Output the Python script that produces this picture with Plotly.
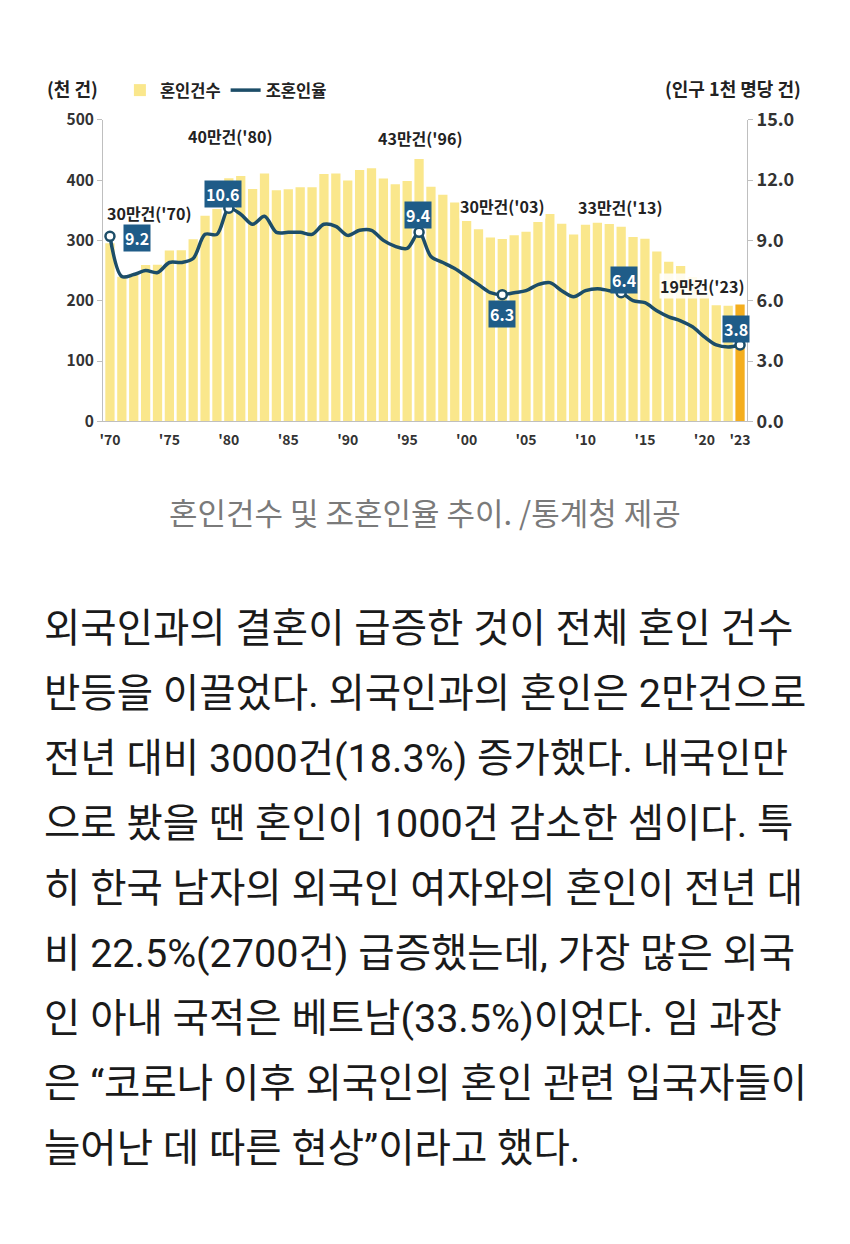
import plotly.graph_objects as go

# ---------------- data ----------------
years = list(range(1970, 2024))
marriages = [295.1, 239.5, 244.8, 259.1, 259.6, 283.2, 283.8, 302.0, 341.0, 352.0,
             403.0, 406.6, 385.0, 411.0, 383.0, 384.7, 388.0, 388.0, 410.0, 411.0,
             399.3, 416.9, 419.8, 402.6, 393.1, 398.5, 434.9, 389.0, 375.6, 362.7,
             332.1, 318.4, 304.9, 302.5, 308.6, 314.3, 330.6, 343.6, 327.7, 309.8,
             326.1, 329.1, 327.1, 322.8, 305.5, 302.8, 281.6, 264.5, 257.6, 239.2,
             213.5, 192.5, 191.7, 193.7]
rates = [9.2, 7.2, 7.3, 7.5, 7.4, 7.9, 7.9, 8.1, 9.3, 9.3,
         10.6, 10.3, 9.8, 10.2, 9.4, 9.4, 9.4, 9.3, 9.8, 9.7,
         9.25, 9.5, 9.5, 9.0, 8.7, 8.6, 9.4, 8.2, 7.9, 7.6,
         7.2, 6.8, 6.4, 6.3, 6.4, 6.5, 6.8, 6.9, 6.5, 6.2,
         6.5, 6.6, 6.5, 6.4, 6.0, 5.9, 5.5, 5.2, 5.0, 4.7,
         4.2, 3.8, 3.7, 3.8]

highlight_years = [1970, 1980, 1996, 2003, 2013, 2023]
count_labels = ["30만건('70)", "40만건('80)", "43만건('96)", "30만건('03)", "33만건('13)", "19만건('23)"]
rate_labels = ["9.2", "10.6", "9.4", "6.3", "6.4", "3.8"]

x_tick_vals = [1970, 1975, 1980, 1985, 1990, 1995, 2000, 2005, 2010, 2015, 2020, 2023]
x_tick_text = ["'70", "'75", "'80", "'85", "'90", "'95", "'00", "'05", "'10", "'15", "'20", "'23"]

caption = "혼인건수 및 조혼인율 추이. /통계청 제공"
body_lines = [
    "외국인과의 결혼이 급증한 것이 전체 혼인 건수",
    "반등을 이끌었다. 외국인과의 혼인은 2만건으로",
    "전년 대비 3000건(18.3%) 증가했다. 내국인만",
    "으로 봤을 땐 혼인이 1000건 감소한 셈이다. 특",
    "히 한국 남자의 외국인 여자와의 혼인이 전년 대",
    "비 22.5%(2700건) 급증했는데, 가장 많은 외국",
    "인 아내 국적은 베트남(33.5%)이었다. 임 과장",
    "은 “코로나 이후 외국인의 혼인 관련 입국자들이",
    "늘어난 데 따른 현상”이라고 했다.",
]

# ---------------- style ----------------
W, H = 850, 1244
FONT = "Noto Sans CJK KR, Noto Sans, sans-serif"
BODY_FONT = "Roboto, Noto Sans CJK KR, sans-serif"
BAR_YELLOW = "#FAE78C"
BAR_ORANGE = "#F4AE1E"
LINE_COLOR = "#1C4D68"
BOX_COLOR = "#1F5C88"
AXIS_GRAY = "#BFBFBF"


def px(x):
    return x / W


def py(y):
    return 1 - y / H


bar_colors = [BAR_YELLOW] * (len(years) - 1) + [BAR_ORANGE]

fig = go.Figure()
fig.add_trace(go.Bar(
    x=years, y=marriages, name="혼인건수",
    marker=dict(color=bar_colors, line=dict(width=0)),
    yaxis="y", hoverinfo="skip",
))
fig.add_trace(go.Scatter(
    x=years, y=rates, name="조혼인율", mode="lines",
    line=dict(color=LINE_COLOR, width=3.5, shape="spline", smoothing=0.9),
    yaxis="y2", hoverinfo="skip",
))
hl_rates = [rates[years.index(y)] for y in highlight_years]
hl_counts = [marriages[years.index(y)] for y in highlight_years]
fig.add_trace(go.Scatter(
    x=highlight_years, y=hl_rates, mode="markers", showlegend=False,
    marker=dict(color="white", size=9, line=dict(color=LINE_COLOR, width=2.5)),
    yaxis="y2", hoverinfo="skip",
))

annotations = []
# rate boxes (xshift, yshift in px)
rate_shifts = [(27, -2), (-6, 14), (-1, 17), (0, -19), (3, 13), (-4, 16)]
for yr, rv, lab, (dx, dy) in zip(highlight_years, hl_rates, rate_labels, rate_shifts):
    annotations.append(dict(
        x=yr, y=rv, xref="x", yref="y2", text=f"<b>{lab}</b>", showarrow=False,
        xshift=dx, yshift=dy, bgcolor=BOX_COLOR, borderpad=1,
        font=dict(family=FONT, size=16, color="white"),
    ))
# count labels
count_shifts = [(40, 30), (2, 42), (1, 21), (0, 33), (-1, 20), (-38, 19)]
count_bg = [None, None, None, "rgba(255,255,255,0.85)", None, "rgba(255,255,255,0.85)"]
for yr, cv, lab, (dx, dy), bg in zip(highlight_years, hl_counts, count_labels, count_shifts, count_bg):
    a = dict(
        x=yr, y=cv, xref="x", yref="y", text=f"<b>{lab}</b>", showarrow=False,
        xshift=dx, yshift=dy, borderpad=0,
        font=dict(family=FONT, size=16, color="#222222"),
    )
    if bg:
        a["bgcolor"] = bg
    annotations.append(a)

# axis unit labels
annotations.append(dict(x=px(41), y=py(75), xref="paper", yref="paper", xanchor="left",
                        yanchor="middle", text="<b>(천 건)</b>", showarrow=False,
                        font=dict(family=FONT, size=18, color="#222222")))
annotations.append(dict(x=px(807), y=py(75), xref="paper", yref="paper", xanchor="right",
                        yanchor="middle", text="<b>(인구 1천 명당 건)</b>", showarrow=False,
                        font=dict(family=FONT, size=18, color="#222222")))
# caption
annotations.append(dict(x=0.5, y=py(507), xref="paper", yref="paper", xanchor="center",
                        yanchor="middle", text=caption, showarrow=False,
                        font=dict(family=FONT, size=31, color="#7A7A7A")))
# body text
for i, line in enumerate(body_lines):
    annotations.append(dict(x=px(38), y=py(627 + i * 66.4), xref="paper", yref="paper",
                            xanchor="left", yanchor="middle", text=line, showarrow=False,
                            font=dict(family=BODY_FONT, size=39.5, color="#1A1A1A")))

fig.update_layout(
    width=W, height=H,
    margin=dict(l=0, r=0, t=0, b=0),
    paper_bgcolor="white", plot_bgcolor="white",
    bargap=0.22,
    showlegend=True,
    legend=dict(orientation="h", x=px(117), y=py(77), xanchor="left", yanchor="middle",
                font=dict(family=FONT, size=16.5, color="#222222", weight="bold"),
                itemwidth=30, tracegroupgap=0, bgcolor="rgba(0,0,0,0)"),
    xaxis=dict(domain=[px(100), px(750)], range=[1969.42, 2023.58],
               tickvals=x_tick_vals, ticktext=x_tick_text,
               showline=True, linecolor=AXIS_GRAY, linewidth=1,
               ticks="", showgrid=False, zeroline=False,
               tickfont=dict(family=FONT, size=14, color="#333333", weight="bold"),
               ticklabelstandoff=6),
    yaxis=dict(domain=[py(415), py(107)], range=[0, 500], dtick=100,
               showline=True, linecolor=AXIS_GRAY, linewidth=1,
               ticks="outside", ticklen=5, tickcolor=AXIS_GRAY,
               showgrid=False, zeroline=False,
               tickfont=dict(family=FONT, size=15.5, color="#333333", weight="bold")),
    yaxis2=dict(domain=[py(415), py(107)], range=[0, 15], dtick=3, tickformat=".1f",
                overlaying="y", side="right", anchor="x",
                showline=True, linecolor=AXIS_GRAY, linewidth=1,
                ticks="outside", ticklen=5, tickcolor=AXIS_GRAY,
                showgrid=False, zeroline=False,
                tickfont=dict(family=FONT, size=18, color="#333333", weight="bold")),
    annotations=annotations,
)

fig.write_html(
    "out.html",
    post_script="document.body.style.margin='0';document.body.style.padding='0';",
)
